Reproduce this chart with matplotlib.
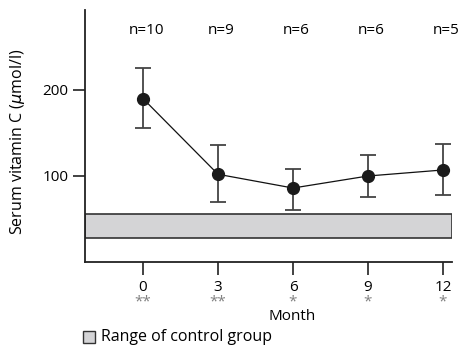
import matplotlib
matplotlib.use("Agg")
import matplotlib.pyplot as plt
from matplotlib.patches import Rectangle

months = [0, 3, 6, 9, 12]
means = [190, 102, 86, 100, 107]
upper = [225, 136, 108, 124, 137]
lower = [156, 70, 60, 76, 78]
n_labels = ["n=10", "n=9", "n=6", "n=6", "n=5"]
stars = ["**", "**", "*", "*", "*"]
control_low, control_high = 27.5, 56
yticks = [100, 200]

plt.rcParams['font.family'] = ['Open Sans', 'DejaVu Sans']
fs = 11

fig = plt.figure(figsize=(4.7, 3.5), dpi=100)
ax = fig.add_axes([85/470, 1-262/350, (452-85)/470, (262-10)/350])
ax.set_xlim(-2.32, 12.36)
ax.set_ylim(0, 293)

# control band
ax.add_patch(Rectangle((-2.32, control_low), 14.68, control_high - control_low,
                       facecolor='#d4d4d6', edgecolor='#333333', linewidth=1.2, zorder=1))

yerr = [[m - l for m, l in zip(means, lower)], [u - m for m, u in zip(means, upper)]]
ax.errorbar(months, means, yerr=yerr, fmt='none', ecolor='#444444', elinewidth=1.3,
            capsize=5.5, capthick=1.3, zorder=2)
ax.plot(months, means, color='#111111', linewidth=0.9, zorder=3)
ax.plot(months, means, 'o', color='#1a1a1a', markersize=8.5, zorder=4)

for sp in ['top', 'right']:
    ax.spines[sp].set_visible(False)
for sp in ['left', 'bottom']:
    ax.spines[sp].set_linewidth(1.3)
    ax.spines[sp].set_color('#222222')

ax.set_xticks(months)
ax.set_xticklabels([str(m) for m in months], fontsize=fs)
ax.set_yticks(yticks)
ax.set_yticklabels([str(v) for v in yticks], fontsize=fs)
ax.tick_params(axis='both', length=9, width=1.3, color='#333333', pad=3)
ax.tick_params(axis='x', pad=4)

for m, s in zip(months, n_labels):
    ax.text(m + 0.12, 1 - 20/252, s, transform=ax.get_xaxis_transform(), ha='center', va='center', fontsize=fs)
for m, s in zip(months, stars):
    ax.text(m, -40/252, s, transform=ax.get_xaxis_transform(), ha='center', va='center',
            fontsize=11, color='#808080')

fig.text(292/470, 1-316/350, "Month", ha='center', va='center', fontsize=fs)
fig.text(18/470, 1-142/350, "Serum vitamin C ($\\mu$mol/l)", rotation=90, ha='center', va='center', fontsize=11.5)

# legend
fig.patches.append(Rectangle((83/470, 1-343/350), 12/470, 12/350, transform=fig.transFigure,
                             facecolor='#d4d4d6', edgecolor='#333333', linewidth=1.0))
fig.text(101/470, 1-337/350, "Range of control group", ha='left', va='center', fontsize=11.5)

fig.savefig("out.png", dpi=100)
